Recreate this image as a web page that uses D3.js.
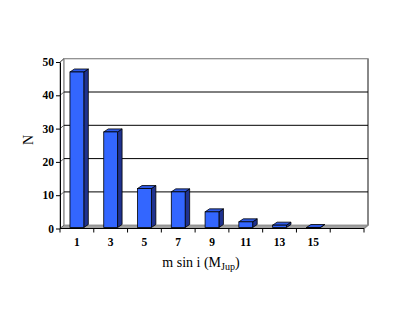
<!DOCTYPE html>
<html><head><meta charset="utf-8">
<script src="https://cdn.jsdelivr.net/npm/d3@7"></script>
<style>body{margin:0;background:#fff}svg{display:block}</style>
</head><body>
<script>
const categories = ["1","3","5","7","9","11","13","15",""];
const counts = [47,29,12,11,5,2,1,0,null];
const yTicks = [0,10,20,30,40,50];
const yTitle = "N";

const W = 415, H = 311;
const svg = d3.select("body").append("svg").attr("width", W).attr("height", H);
const serif = "'Liberation Serif','Times New Roman',serif";

const x = d3.scaleBand().domain(categories).range([60, 364]).paddingInner(0).paddingOuter(0);
const y = d3.scaleLinear().domain([0, 50]).range([228.5, 62]);
const dx = 4, dy = -3.3;

// floor
svg.append("polygon")
  .attr("points", [[60,y(0)],[364,y(0)],[364+dx,y(0)+dy],[60+dx,y(0)+dy]].join(" "))
  .attr("fill", "#a0a0a0");
// side wall
svg.append("polygon")
  .attr("points", [[60,y(0)],[60,y(50)],[60+dx,y(50)+dy],[60+dx,y(0)+dy]].join(" "))
  .attr("fill", "#fff").attr("stroke", "#888").attr("stroke-width", 1);
// back wall
svg.append("rect").attr("x", 60+dx).attr("y", y(50)+dy)
  .attr("width", 304).attr("height", y(0)-y(50))
  .attr("fill", "#fff").attr("stroke", "#888").attr("stroke-width", 1.2);
svg.append("line").attr("x1", 364+dx).attr("x2", 364+dx).attr("y1", y(50)+dy).attr("y2", y(0)+dy)
  .attr("stroke", "#888").attr("stroke-width", 2);
svg.append("line").attr("x1", 364+dx).attr("x2", 364).attr("y1", y(0)+dy).attr("y2", y(0))
  .attr("stroke", "#888").attr("stroke-width", 1.5);

// gridlines
const grid = yTicks.filter(t => t > 0 && t < 50);
svg.selectAll(".grid").data(grid).enter().append("line")
  .attr("x1", 60+dx).attr("x2", 364+dx)
  .attr("y1", d => y(d)+dy).attr("y2", d => y(d)+dy)
  .attr("stroke", "#000").attr("stroke-width", 1);
svg.selectAll(".sgrid").data(yTicks).enter().append("line")
  .attr("x1", 60).attr("x2", 60+dx)
  .attr("y1", d => y(d)).attr("y2", d => y(d)+dy)
  .attr("stroke", "#666").attr("stroke-width", 1);

// bars
const bw = x.bandwidth() * 0.41;
const bdx = 4.5, bdy = -3;
const bars = svg.append("g");
categories.forEach((c, i) => {
  const v = counts[i];
  if (v === null) return;
  const cx = x(c) + x.bandwidth()/2;
  const x0 = cx - bw/2, x1 = cx + bw/2;
  const yt = y(v), yb = y(0) - 1;
  const ytop = Math.min(yt, yb);
  bars.append("polygon")
    .attr("points", [[x1,ytop],[x1+bdx,ytop+bdy],[x1+bdx,yb+bdy],[x1,yb]].join(" "))
    .attr("fill", "#1f3290").attr("stroke", "#000").attr("stroke-width", 0.8).attr("stroke-linejoin","round");
  bars.append("polygon")
    .attr("points", [[x0,ytop],[x0+bdx,ytop+bdy],[x1+bdx,ytop+bdy],[x1,ytop]].join(" "))
    .attr("fill", "#2f5ae6").attr("stroke", "#000").attr("stroke-width", 0.8).attr("stroke-linejoin","round");
  bars.append("rect").attr("x", x0).attr("y", ytop).attr("width", bw).attr("height", Math.max(yb - ytop, 0.01))
    .attr("fill", "#3366ff").attr("stroke", "#000").attr("stroke-width", 0.8);
});

// y axis
const yAxis = svg.append("g").attr("transform", "translate(60,0)")
  .call(d3.axisLeft(y).tickValues(yTicks).tickSize(4).tickSizeOuter(0).tickPadding(2));
yAxis.select(".domain").attr("stroke", "#000");
yAxis.selectAll("line").attr("stroke", "#000");
yAxis.selectAll("text").attr("font-family", serif).attr("font-weight", "bold").attr("font-size", "11.5px").attr("fill", "#000");

// x axis
svg.append("line").attr("x1", 60).attr("x2", 364).attr("y1", y(0)).attr("y2", y(0)).attr("stroke", "#000");
const bounds = categories.map(c => x(c)).concat([x.range()[1]]);
svg.selectAll(".xt").data(bounds).enter().append("line")
  .attr("x1", d => d).attr("x2", d => d).attr("y1", y(0)).attr("y2", y(0)+4)
  .attr("stroke", "#000");
svg.selectAll(".xl").data(categories).enter().append("text")
  .attr("x", d => x(d) + x.bandwidth()/2).attr("y", 245.5)
  .attr("text-anchor", "middle")
  .attr("font-family", serif).attr("font-weight", "bold").attr("font-size", "11.5px")
  .text(d => d);

// titles
svg.append("text").attr("transform", "translate(33,140) rotate(-90)")
  .attr("text-anchor", "middle").attr("font-family", serif).attr("font-size", "14px")
  .text(yTitle);
const xt = svg.append("text").attr("x", 201).attr("y", 267).attr("text-anchor", "middle")
  .attr("font-family", serif).attr("font-size", "14px");
xt.append("tspan").text("m sin i (M");
xt.append("tspan").attr("font-size", "10px").attr("dy", 3).text("Jup");
xt.append("tspan").attr("dy", -3).text(")");
</script>
</body></html>
